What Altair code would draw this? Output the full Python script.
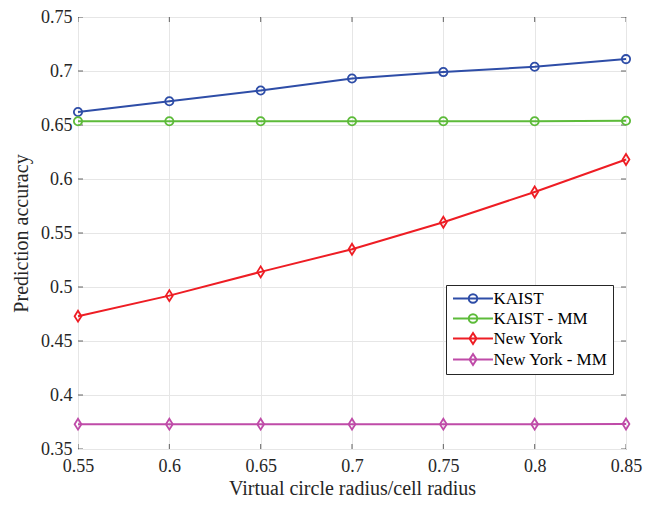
import altair as alt
import pandas as pd

x_vals = [0.55, 0.6, 0.65, 0.7, 0.75, 0.8, 0.85]
y_ticks = [0.35, 0.4, 0.45, 0.5, 0.55, 0.6, 0.65, 0.7, 0.75]
series_names = ["KAIST", "KAIST - MM", "New York", "New York - MM"]
kaist = [0.662, 0.672, 0.682, 0.693, 0.699, 0.704, 0.711]
kaist_mm = [0.6535, 0.6535, 0.6535, 0.6535, 0.6535, 0.6535, 0.654]
new_york = [0.473, 0.492, 0.514, 0.535, 0.560, 0.588, 0.618]
new_york_mm = [0.373, 0.373, 0.373, 0.373, 0.373, 0.373, 0.3732]
colors = ["#2E4DA7", "#5DBB3A", "#EE1D24", "#BF4BA8"]

circle_path = "M0.75,0A0.75,0.75 0 1,1 -0.75,0A0.75,0.75 0 1,1 0.75,0Z"
diamond_path = "M0,-1L0.62,0L0,1L-0.62,0Z"
marker_paths = [circle_path, circle_path, diamond_path, diamond_path]
leg_circle = "M-4,0H4M0.85,0A0.85,0.85 0 1,1 -0.85,0A0.85,0.85 0 1,1 0.85,0Z"
leg_diamond = "M-4,0H4M0,-1.1L0.7,0L0,1.1L-0.7,0Z"
legend_paths = [leg_circle, leg_circle, leg_diamond, leg_diamond]

rows = []
for name, vals in zip(series_names, [kaist, kaist_mm, new_york, new_york_mm]):
    for xv, yv in zip(x_vals, vals):
        rows.append({"x": xv, "y": yv, "series": name})
df = pd.DataFrame(rows)

font = "Liberation Serif, Times New Roman, serif"
xs = alt.Scale(domain=[0.55, 0.85], nice=False, zero=False)
ys = alt.Scale(domain=[0.35, 0.75], nice=False, zero=False)

xenc = alt.X("x:Q", scale=xs, axis=alt.Axis(
    values=x_vals, format=".2~f", title="Virtual circle radius/cell radius",
    ticks=False, domain=False, grid=True, labelPadding=8, titlePadding=3,
    labelFlush=False, labelOverlap=False, labelFont=font, titleFont=font))
yenc = alt.Y("y:Q", scale=ys, axis=alt.Axis(
    values=y_ticks, format=".2~f", title="Prediction accuracy",
    ticks=False, domain=False, grid=True, labelPadding=6, titlePadding=9,
    labelFlush=False, labelOverlap=False, labelFont=font, titleFont=font))

color_scale = alt.Scale(domain=series_names, range=colors)

base = alt.Chart(df)
lines = base.mark_line(strokeWidth=2).encode(
    x=xenc, y=yenc,
    color=alt.Color("series:N", scale=color_scale, legend=None))
points = base.mark_point(filled=False, strokeWidth=1.8, size=121, opacity=1).encode(
    x=xenc, y=yenc,
    color=alt.Color("series:N", scale=color_scale, legend=None),
    shape=alt.Shape("series:N", scale=alt.Scale(domain=series_names, range=marker_paths), legend=None))

leg = alt.Legend(
    title=None, orient="none", legendX=368, legendY=268, padding=5, rowPadding=2,
    strokeColor="#262626", fillColor="white", labelFont=font, labelFontSize=17,
    labelColor="#000000", symbolSize=100, symbolStrokeWidth=2, symbolOffset=13.5,
    labelOffset=12, symbolFillColor="transparent")
legend_layer = base.mark_point(filled=False, strokeWidth=2, size=100, opacity=1).encode(
    x=xenc, y=yenc,
    color=alt.Color("series:N", scale=color_scale, legend=leg),
    shape=alt.Shape("series:N", scale=alt.Scale(domain=series_names, range=legend_paths), legend=leg)
).transform_filter("false")

tick_style = dict(thickness=1, color="#262626", clip=True, size=10)
bottom_df = pd.DataFrame({"x": x_vals, "y": [0.35] * len(x_vals)})
top_df = pd.DataFrame({"x": x_vals, "y": [0.75] * len(x_vals)})
left_df = pd.DataFrame({"x": [0.55] * len(y_ticks), "y": y_ticks})
right_df = pd.DataFrame({"x": [0.85] * len(y_ticks), "y": y_ticks})
tick_layers = [
    alt.Chart(bottom_df).mark_tick(orient="vertical", **tick_style).encode(x=xenc, y=yenc),
    alt.Chart(top_df).mark_tick(orient="vertical", **tick_style).encode(x=xenc, y=yenc),
    alt.Chart(left_df).mark_tick(orient="horizontal", **tick_style).encode(x=xenc, y=yenc),
    alt.Chart(right_df).mark_tick(orient="horizontal", **tick_style).encode(x=xenc, y=yenc),
]

chart = alt.layer(*tick_layers, lines, points, legend_layer).resolve_scale(
    color="independent", shape="independent"
).properties(
    width=548, height=432,
    padding={"left": 70, "top": 9, "right": 25, "bottom": 49},
    autosize="none",
    background="white",
).configure(font=font).configure_axis(
    labelFont=font, labelFontSize=18, titleFont=font, titleFontSize=20,
    labelColor="#262626", titleColor="#262626", gridColor="#E6E6E6",
    gridOpacity=1, titleFontWeight="normal",
).configure_legend(labelFont=font).configure_view(stroke="#404040", strokeWidth=1)

chart.save("out.html", embed_options={"renderer": "svg", "actions": False})
